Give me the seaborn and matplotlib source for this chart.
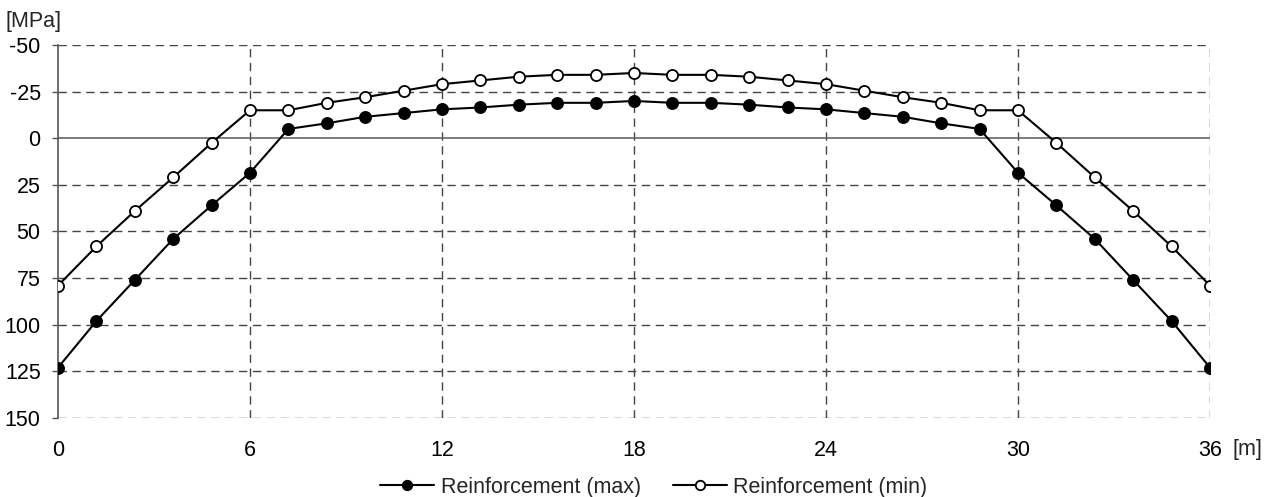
import matplotlib
matplotlib.use("Agg")
import matplotlib.pyplot as plt
import numpy as np
import pandas as pd
import seaborn as sns

# Station positions along the span [m]
position = [round(0.0 + 1.2 * i, 1) for i in range(31)]

# Reinforcement stress [MPa] (negative = compression, plotted upward)
stress_max = [123, 98, 76, 54, 36, 18.5, -5, -8, -11.5, -13.5, -15.5, -16.5, -18, -19, -19, -20,
              -19, -19, -18, -16.5, -15.5, -13.5, -11.5, -8, -5, 18.5, 36, 54, 76, 98, 123]
stress_min = [79, 58, 39, 21, 2.5, -15, -15, -19, -22, -25.5, -29, -31, -33, -34, -34, -35,
              -34, -34, -33, -31, -29, -25.5, -22, -19, -15, -15, 2.5, 21, 39, 58, 79]

series_names = ["Reinforcement (max)", "Reinforcement (min)"]
x_ticks = [0, 6, 12, 18, 24, 30, 36]
y_ticks = [-50, -25, 0, 25, 50, 75, 100, 125, 150]

sns.set_theme(style="white")
plt.rcParams["font.family"] = ["Liberation Sans", "DejaVu Sans"]
plt.rcParams["axes.unicode_minus"] = False

FS = 15.5

df = pd.DataFrame({
    "x": position * 2,
    "stress": stress_max + stress_min,
    "series": [series_names[0]] * len(position) + [series_names[1]] * len(position),
})

fig = plt.figure(figsize=(12.74, 4.97), dpi=100)
ax = fig.add_axes([58 / 1274, 1 - 418 / 497, (1210 - 58) / 1274, (418 - 45) / 497])

grid_kw = dict(color="#444444", linewidth=1.0, linestyle=(0, (6, 4)), zorder=0)
for yv in y_ticks:
    if yv != 0:
        ax.axhline(yv, **grid_kw)
for xv in x_ticks[1:]:
    ax.axvline(xv, **grid_kw)
ax.axhline(0, color="#666666", linewidth=1.2, zorder=1)

styles = {
    series_names[0]: dict(markerfacecolor="black"),
    series_names[1]: dict(markerfacecolor="white"),
}
for name in series_names:
    sub = df[df["series"] == name]
    sns.lineplot(data=sub, x="x", y="stress", ax=ax, color="black", linewidth=1.5,
                 marker="o", markersize=8, markeredgecolor="black", markeredgewidth=1.3,
                 label=name, zorder=3, **styles[name])

ax.set_xlim(0, 36)
ax.set_ylim(150, -50)
ax.set_xticks(x_ticks)
ax.set_yticks(y_ticks)
ax.set_xlabel("")
ax.set_ylabel("")
ax.tick_params(axis="x", labelsize=FS, length=0, colors="black", pad=16)
ax.tick_params(axis="y", labelsize=FS, length=4, width=1.0, color="#555555",
               labelcolor="black", direction="out", left=True, pad=8.5)

for side in ["top", "right", "bottom"]:
    ax.spines[side].set_visible(False)
ax.spines["left"].set_color("#555555")
ax.spines["left"].set_linewidth(1.2)

fig.text(6 / 1274, 1 - 21 / 497, "[MPa]", fontsize=FS, va="center", ha="left")
fig.text(1233 / 1274, 1 - 450 / 497, "[m]", fontsize=FS, va="center", ha="left")

handles, labels = ax.get_legend_handles_labels()
ax.legend_.remove()
fig.legend(handles, labels, loc="center", bbox_to_anchor=(654 / 1274, 1 - 487 / 497),
           ncol=2, frameon=False, fontsize=FS, handlelength=2.5, handletextpad=0.3,
           columnspacing=1.5, markerscale=0.85)

fig.savefig("out.png", dpi=100)
